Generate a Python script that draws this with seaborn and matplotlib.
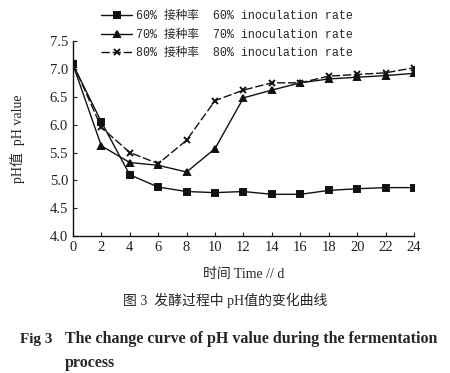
import numpy as np
import pandas as pd
import matplotlib
matplotlib.use("Agg")
import matplotlib.pyplot as plt
import seaborn as sns

# ----------------------------------------------------------
# DATA
# ----------------------------------------------------------
days = [0, 2, 4, 6, 8, 10, 12, 14, 16, 18, 20, 22, 24]
ph_60 = [7.08, 6.05, 5.10, 4.88, 4.80, 4.78, 4.80, 4.75, 4.75, 4.82, 4.85, 4.87, 4.87]
ph_70 = [7.08, 5.62, 5.32, 5.27, 5.15, 5.57, 6.48, 6.62, 6.75, 6.82, 6.85, 6.88, 6.92]
ph_80 = [7.10, 5.95, 5.50, 5.30, 5.72, 6.43, 6.62, 6.75, 6.75, 6.87, 6.90, 6.93, 7.02]

labels = [
    "60% 接种率  60% inoculation rate",
    "70% 接种率  70% inoculation rate",
    "80% 接种率  80% inoculation rate",
]

# ----------------------------------------------------------
# STYLE
# ----------------------------------------------------------
sns.set_style("ticks")
plt.rcParams["font.family"] = ["Liberation Serif", "Noto Sans CJK SC"]
serif_cjk = ["Liberation Serif", "Noto Sans CJK SC"]
mono_cjk = ["Liberation Mono", "Noto Sans CJK SC"]

fig = plt.figure(figsize=(4.5, 3.73), dpi=100)
ax = fig.add_axes([0.162, 0.367, 0.758, 0.523])

series = [
    (ph_60, "s", "-", labels[0]),
    (ph_70, "^", "-", labels[1]),
    (ph_80, "x", (0, (6, 2)), labels[2]),
]

for vals, mk, ls, lab in series:
    sns.lineplot(
        x=days, y=vals, marker=mk, linestyle=ls, color="#111111",
        linewidth=1.0, markersize=6, markeredgewidth=1.4,
        markeredgecolor="#111111", ax=ax, label=lab,
    )

# ----------------------------------------------------------
# AXES
# ----------------------------------------------------------
ax.set_xlim(0, 24)
ax.set_ylim(4.0, 7.5)
ax.set_xticks(range(0, 25, 2))
yt = np.arange(4.0, 7.51, 0.5)
ax.set_yticks(yt)
ax.set_yticklabels([f"{v:.1f}" for v in yt])
ax.tick_params(direction="in", length=3, width=0.8, labelsize=10.5, colors="#222222")
sns.despine(ax=ax)
for s in ["left", "bottom"]:
    ax.spines[s].set_linewidth(1.0)
    ax.spines[s].set_color("#111111")

ax.set_xlabel("时间 Time // d", family=serif_cjk, fontsize=10, labelpad=10)
ax.set_ylabel("pH值  pH value", family=serif_cjk, fontsize=10, labelpad=18)

# ----------------------------------------------------------
# LEGEND
# ----------------------------------------------------------
handles, leg_labels = ax.get_legend_handles_labels()
for h in handles:
    h.set_markersize(5)
ax.get_legend().remove()
fig.legend(
    handles, leg_labels, loc="upper left", bbox_to_anchor=(0.215, 0.985),
    frameon=False, handlelength=2.6, labelspacing=0.55,
    handletextpad=0.4, borderaxespad=0,
    prop={"family": mono_cjk, "size": 8.4},
)

# ----------------------------------------------------------
# CAPTION
# ----------------------------------------------------------
fig.text(0.5, 0.195, "图 3  发酵过程中 pH值的变化曲线", ha="center", va="center",
         family=serif_cjk, fontsize=10)
fig.text(0.045, 0.09, "Fig 3", ha="left", va="center",
         family=serif_cjk, fontsize=11, weight="bold")
fig.text(0.145, 0.09, "The change curve of pH value during the fermentation",
         ha="left", va="center", family=serif_cjk, fontsize=11.5, weight="bold")
fig.text(0.145, 0.027, "process", ha="left", va="center",
         family=serif_cjk, fontsize=11.5, weight="bold")

fig.savefig("out.png", dpi=100)
